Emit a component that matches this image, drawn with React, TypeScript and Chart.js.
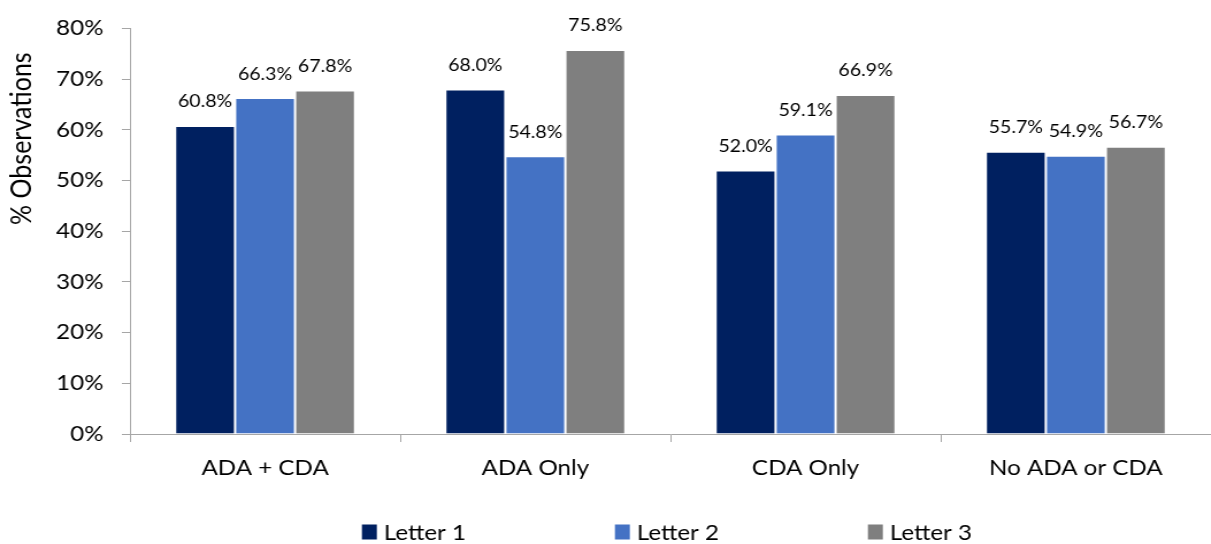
import { useEffect, useRef } from "react";
import { Chart, registerables } from "chart.js";

Chart.register(...registerables);

// Categories and series values (percent of observations)
const categories = ["ADA + CDA", "ADA Only", "CDA Only", "No ADA or CDA"];
const seriesNames = ["Letter 1", "Letter 2", "Letter 3"];
const letter1 = [60.8, 68.0, 52.0, 55.7];
const letter2 = [66.3, 54.8, 59.1, 54.9];
const letter3 = [67.8, 75.8, 66.9, 56.7];
const seriesColors = ["#002060", "#4472C4", "#7F7F7F"];
const yMax = 80;
const yStep = 10;
const yTitle = "% Observations";

const FONT = "Lato, 'Open Sans', sans-serif";
const AXIS_GRAY = "#A6A6A6";
// the drawing is laid out narrower and widened horizontally on screen
const STRETCH = 1.15;
const WIDTH = 1211;
const HEIGHT = 544;
const CANVAS_W = Math.round(WIDTH / STRETCH);

const valueLabels = {
  id: "valueLabels",
  afterDatasetsDraw(chart: any) {
    const { ctx } = chart;
    ctx.save();
    ctx.font = `17px ${FONT}`;
    ctx.fillStyle = "#000";
    ctx.textAlign = "center";
    ctx.textBaseline = "middle";
    chart.data.datasets.forEach((ds: any, di: number) => {
      const meta = chart.getDatasetMeta(di);
      meta.data.forEach((bar: any, i: number) => {
        const v = ds.data[i] as number;
        ctx.fillText(`${v.toFixed(1)}%`, bar.x, bar.y - 24);
      });
    });
    ctx.restore();
  },
};

const sideTitle = {
  id: "sideTitle",
  afterDraw(chart: any) {
    const { ctx, chartArea } = chart;
    ctx.save();
    ctx.font = `25px ${FONT}`;
    ctx.fillStyle = "#000";
    ctx.translate(19, chartArea.top + 110);
    ctx.rotate(-Math.PI / 2);
    ctx.textAlign = "center";
    ctx.textBaseline = "middle";
    ctx.fillText(yTitle, 0, 0);
    ctx.restore();
  },
};

const bottomLegend = {
  id: "bottomLegend",
  afterDraw(chart: any) {
    const { ctx, chartArea } = chart;
    const slot = 220;
    const boxW = 13;
    const boxH = 15;
    const gap = 6;
    const cy = 532;
    ctx.save();
    ctx.font = `21px ${FONT}`;
    ctx.textBaseline = "middle";
    ctx.textAlign = "left";
    const names = chart.data.datasets.map((d: any) => d.label as string);
    const lastW = boxW + gap + ctx.measureText(names[names.length - 1]).width;
    const cx = (chartArea.left + chartArea.right) / 2;
    const startX = cx - ((names.length - 1) * slot + lastW) / 2 - 3;
    names.forEach((name: string, i: number) => {
      const x = startX + i * slot;
      ctx.fillStyle = chart.data.datasets[i].backgroundColor;
      ctx.fillRect(x, cy - boxH / 2, boxW, boxH);
      ctx.fillStyle = "#000";
      ctx.fillText(name, x + boxW + gap, cy + 1);
    });
    ctx.restore();
  },
};

export default function App() {
  const ref = useRef<HTMLCanvasElement | null>(null);

  useEffect(() => {
    if (!ref.current) return;
    const values = [letter1, letter2, letter3];
    const chart = new Chart(ref.current, {
      type: "bar",
      data: {
        labels: categories,
        datasets: seriesNames.map((name, i) => ({
          label: name,
          data: values[i],
          backgroundColor: seriesColors[i],
          borderColor: "rgba(255,255,255,0.2)",
          borderWidth: 1,
          barPercentage: 1,
          categoryPercentage: 0.666,
        })),
      },
      options: {
        responsive: false,
        animation: false,
        devicePixelRatio: 1,
        layout: { padding: { top: 22, right: 0, bottom: 50, left: 0 } },
        plugins: {
          legend: { display: false },
          tooltip: { enabled: false },
          title: { display: false },
        },
        scales: {
          x: {
            offset: true,
            grid: {
              offset: true,
              drawOnChartArea: false,
              drawTicks: true,
              tickLength: 8,
              color: AXIS_GRAY,
            },
            border: { display: true, color: AXIS_GRAY, width: 1 },
            ticks: {
              color: "#000",
              padding: 14,
              maxRotation: 0,
              font: { family: FONT, size: 21 },
            },
            afterFit(scale: any) {
              scale.height = 60;
            },
          },
          y: {
            min: 0,
            max: yMax,
            grid: {
              drawOnChartArea: false,
              drawTicks: true,
              tickLength: 7,
              color: AXIS_GRAY,
            },
            border: { display: true, color: AXIS_GRAY, width: 1 },
            ticks: {
              stepSize: yStep,
              color: "#000",
              padding: 16,
              font: { family: FONT, size: 21 },
              callback: (v: any) => `${v}%`,
            },
            afterFit(scale: any) {
              scale.width = 113;
            },
          },
        },
      },
      plugins: [valueLabels, sideTitle, bottomLegend],
    });
    return () => chart.destroy();
  }, []);

  return (
    <div
      style={{
        position: "fixed",
        left: 0,
        top: 0,
        width: WIDTH,
        height: HEIGHT,
        overflow: "hidden",
        background: "#fff",
      }}
    >
      <canvas
        ref={ref}
        width={CANVAS_W}
        height={HEIGHT}
        style={{
          display: "block",
          transform: `scaleX(${STRETCH})`,
          transformOrigin: "0 0",
        }}
      />
    </div>
  );
}
